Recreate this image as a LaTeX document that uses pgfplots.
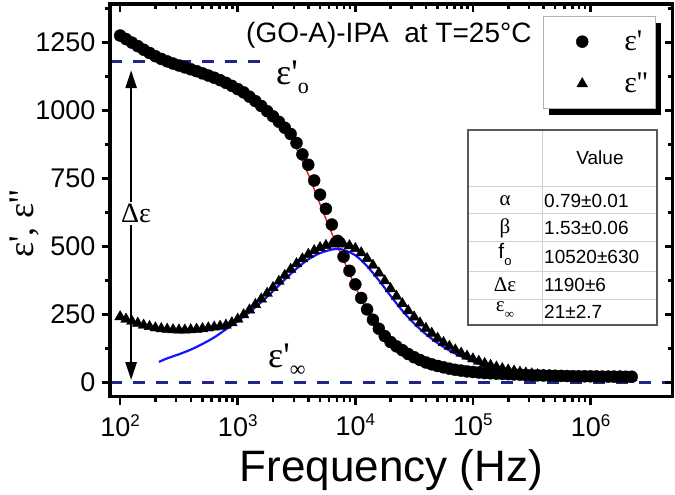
\documentclass[border=0pt]{standalone}
\usepackage{fontspec}
\setmainfont{Liberation Sans}
\newfontfamily\serif{Liberation Serif}
\usepackage{pgfplots}
\pgfplotsset{compat=1.18}
\usepackage{pgfplotstable}
\usetikzlibrary{arrows.meta}
\newcommand\fs[1]{\fontsize{#1bp}{#1bp}\selectfont}
\definecolor{navyd}{RGB}{30,40,130}
\definecolor{fitred}{RGB}{230,30,30}
\definecolor{fitblue}{RGB}{20,20,255}

\pgfplotstableread{
f e1 e2
1.000e2 1275 241
1.122e2 1262 232
1.259e2 1249 224
1.413e2 1236 217
1.585e2 1223 210
1.778e2 1211 205
1.995e2 1199 200
2.239e2 1189 197
2.512e2 1180 195
2.818e2 1172 193
3.162e2 1165 192
3.548e2 1158 192
3.981e2 1151 193
4.467e2 1144 195
5.012e2 1136 197
5.623e2 1128 200
6.310e2 1120 203
7.079e2 1111 206
7.943e2 1101 210
8.913e2 1090 219
1.000e3 1078 232
1.122e3 1066 248
1.259e3 1050 266
1.413e3 1034 286
1.585e3 1016 306
1.778e3 997 327
1.995e3 978 348
2.239e3 958 371
2.512e3 936 393
2.818e3 913 415
3.162e3 880 436
3.548e3 838 454
3.981e3 800 470
4.467e3 742 484
5.012e3 690 495
5.623e3 638 503
6.310e3 580 508
7.079e3 520 510
7.943e3 462 508
8.913e3 410 502
1.000e4 360 492
1.122e4 310 476
1.259e4 268 455
1.413e4 230 430
1.585e4 197 402
1.778e4 170 373
1.995e4 148 344
2.239e4 132 316
2.512e4 118 289
2.818e4 104 263
3.162e4 92 240
3.548e4 82 218
3.981e4 73 198
4.467e4 66 180
5.012e4 60 162
5.623e4 55 146
6.310e4 50 132
7.079e4 46 119
7.943e4 43 107
8.913e4 40 96
1.000e5 38 86
1.122e5 36 77
1.259e5 34 69
1.413e5 33 62
1.585e5 32 56
1.778e5 31 50
1.995e5 30 45
2.239e5 29 41
2.512e5 28 37
2.818e5 27 34
3.162e5 26 31
3.548e5 25.5 28
3.981e5 25 26
4.467e5 24.5 24.5
5.012e5 24 23
5.623e5 23.5 22
6.310e5 23 21
7.079e5 22.5 20.5
7.943e5 22 20
8.913e5 22 19.5
1.000e6 22 19
1.122e6 21.5 18.5
1.259e6 21 18
1.413e6 21 18
1.585e6 21 18
1.778e6 21 17.5
1.995e6 20.5 17
2.239e6 20.5 17
}\datatab

\pgfplotstableread{
f v
2.089e2 1188
2.512e2 1182
3.162e2 1170
3.981e2 1157
5.012e2 1143
6.310e2 1127
7.943e2 1107
1.000e3 1084
1.259e3 1056
1.585e3 1022
1.995e3 982
2.512e3 932
3.162e3 860
3.981e3 765
5.012e3 655
6.310e3 548
7.943e3 450
1.000e4 352
1.259e4 266
1.585e4 193
1.995e4 140
2.512e4 103
3.162e4 78
3.981e4 60
5.012e4 48
6.310e4 40
7.943e4 34
1.000e5 30
1.259e5 27
1.585e5 25
1.995e5 23.5
2.512e5 22.5
3.981e5 21.5
6.310e5 21
2.239e6 21
}\fitone

\pgfplotstableread{
f v
2.138e2 75
2.512e2 88
3.162e2 103
3.981e2 120
5.012e2 141
6.310e2 165
7.943e2 195
1.000e3 225
1.259e3 258
1.585e3 295
1.995e3 335
2.512e3 378
3.162e3 418
3.981e3 452
5.012e3 475
6.310e3 488
7.079e3 490
7.943e3 487
1.000e4 467
1.259e4 427
1.585e4 375
1.995e4 318
2.512e4 263
3.162e4 216
3.981e4 177
5.012e4 144
6.310e4 117
7.943e4 95
1.000e5 77
1.259e5 61
1.585e5 48
1.995e5 37
2.512e5 29
3.162e5 22
3.981e5 17
5.012e5 13
6.310e5 10
7.943e5 8
1.000e6 6
1.259e6 5
1.585e6 4
1.995e6 3
2.344e6 2.5
}\fittwo

\begin{document}
\begin{tikzpicture}
\begin{scope}[x=1bp, y=-1bp]
\fill[black] (549,23) rectangle (661,115);
\filldraw[fill=white, draw=gray!60, line width=1bp] (543,17) rectangle (655,109);
\end{scope}
\begin{axis}[
    at={(110bp,-396.7bp)}, anchor=south west,
    scale only axis, width=562.7bp, height=392.7bp,
    xmode=log, xmin=82, xmax=5e6, ymin=-53, ymax=1391,
    xtick={1e2,1e3,1e4,1e5,1e6},
    ytick={0,250,...,1250},
    minor ytick={125,375,...,1375},
    major tick length=8bp, minor tick length=5bp,
    every tick/.append style={black, line width=2.5bp},
    axis line style={line width=3.5bp},
    tick align=outside, xtick pos=left, ytick pos=left,
    xticklabels={10\raisebox{10bp}{\fs{17}2},10\raisebox{10bp}{\fs{17}3},10\raisebox{10bp}{\fs{17}4},10\raisebox{10bp}{\fs{17}5},10\raisebox{10bp}{\fs{17}6}},
    /pgf/number format/assume math mode=true,
    /pgf/number format/1000 sep={},
    tick label style={font=\fs{27}},
    xticklabel style={yshift=-6bp},
    yticklabel style={xshift=-3bp},
    xlabel={Frequency (Hz)},
    xlabel style={font=\fs{44}, at={(axis description cs:0.5,-0.2165)}, anchor=base},
    ylabel={{\serif ε', ε''}},
    ylabel style={font=\fs{36}, at={(axis description cs:-0.1368,0.44)}, anchor=base},
    legend style={at={(rel axis cs:0.814,0.957)}, anchor=north west,
      draw=none, fill=none,
      font=\serif\fs{30}, inner xsep=8bp, inner ysep=10bp,
      column sep=36bp, row sep=21bp,
      nodes={inner sep=0pt}},
    legend cell align=left,
]
\addplot[only marks, mark=*, mark size=6bp, black] table[x=f, y=e1] {\datatab};
\addlegendentry{ε'}
\addplot[only marks, mark=triangle*, mark size=6.2bp, black] table[x=f, y=e2] {\datatab};
\addlegendentry{ε''}
\addplot[fitred, line width=1.4bp, smooth, forget plot] table[x=f, y=v] {\fitone};
\addplot[fitblue, line width=2.2bp, smooth, forget plot] table[x=f, y=v] {\fittwo};
\addplot[navyd, line width=3.3bp, dash pattern=on 12bp off 11bp, forget plot] coordinates {(82,1180) (1780,1180)};
\addplot[navyd, line width=3.3bp, dash pattern=on 12bp off 11bp, forget plot] coordinates {(82,0) (5e6,0)};
\draw[black, line width=2.5bp, {Triangle[length=18bp,width=11bp]}-{Triangle[length=18bp,width=11bp]}]
  (axis cs:124,1148) -- (axis cs:124,8);
\node[fill=white, inner sep=2bp, font=\serif\fs{28}, xshift=5bp] at (axis cs:124,622) {Δε};
\end{axis}
\begin{axis}[
    at={(110bp,-396.7bp)}, anchor=south west,
    scale only axis, width=562.7bp, height=392.7bp,
    xmode=log, xmin=82, xmax=5e6, ymin=-53, ymax=1391,
    xtick={1e2,1e3,1e4,1e5,1e6},
    ytick={0,250,...,1250},
    minor ytick={125,375,...,1375},
    major tick length=8bp, minor tick length=5bp,
    every tick/.append style={black, line width=2.5bp},
    axis line style={line width=3.5bp},
    tick align=inside, xtick pos=right, ytick pos=right,
    xticklabels={}, yticklabels={},
]
\end{axis}
\begin{scope}[x=1bp, y=-1bp]
\node[anchor=base west, font=\fs{28}, inner sep=0pt] at (246,43) {(GO-A)-IPA\ \ at T=25°C};
\node[anchor=base west, inner sep=0pt] at (276,85) {\serif\fs{36}ε'\raisebox{-9bp}{\fs{22}o}};
\node[anchor=base west, inner sep=0pt] at (268,367) {\serif\fs{36}ε'\raisebox{-9bp}{\fs{22}∞}};
\fill[white] (468,130) rectangle (657,325);
\draw[gray!35, line width=1bp] (542,130) -- (542,325);
\foreach \yy in {187,214,242,271,299} {\draw[gray!35, line width=1bp] (468,\yy) -- (657,\yy);}
\draw[gray!70!black, line width=1.2bp] (468,130) rectangle (657,325);
\node[font=\fs{19}] at (600,158) {Value};
\node[font=\serif\fs{21}] at (505,200.5) {α};
\node[font=\serif\fs{21}] at (505,228) {β};
\node[font=\fs{21}] at (505,254) {f\raisebox{-7bp}{\fs{13}o}};
\node[font=\serif\fs{21}] at (505,285) {Δε};
\node[font=\serif\fs{21}] at (505,310) {ε\raisebox{-7bp}{\fs{13}∞}};
\node[anchor=west, font=\fs{19}, inner sep=0pt] at (544,200.5) {0.79±0.01};
\node[anchor=west, font=\fs{19}, inner sep=0pt] at (544,228) {1.53±0.06};
\node[anchor=west, font=\fs{19}, inner sep=0pt] at (544,256.5) {10520±630};
\node[anchor=west, font=\fs{19}, inner sep=0pt] at (544,285) {1190±6};
\node[anchor=west, font=\fs{19}, inner sep=0pt] at (544,312) {21±2.7};
\pgfresetboundingbox
\path[use as bounding box] (0,0) rectangle (675,495);
\end{scope}
\end{tikzpicture}
\end{document}
